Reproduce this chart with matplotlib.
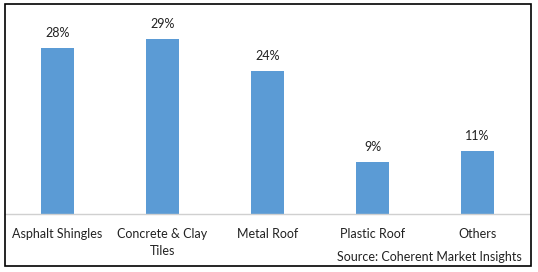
import matplotlib.pyplot as plt
from matplotlib.patches import Rectangle

categories = ["Asphalt Shingles", "Concrete & Clay\nTiles", "Metal Roof", "Plastic Roof", "Others"]
shares = [27.8, 29.3, 24.0, 8.7, 10.6]
labels = ["28%", "29%", "24%", "9%", "11%"]

W, H = 538, 272
fig = plt.figure(figsize=(W / 100, H / 100), dpi=100)
plt.rcParams['font.family'] = ['Lato', 'DejaVu Sans']

# outer frame
fig.patches.append(Rectangle((5 / W, 1 - 266 / H), 526 / W, 262 / H, transform=fig.transFigure,
                             fill=False, edgecolor='black', linewidth=1.2))

ax = fig.add_axes([5 / W, 1 - 214 / H, 525 / W, 194 / H])
x = range(len(categories))
ax.bar(x, shares, width=0.314, color='#5B9BD5')
for i, (v, lab) in enumerate(zip(shares, labels)):
    ax.text(i, v + 1.5, lab, ha='center', va='bottom', fontsize=9, color='#222222')

ax.set_xlim(-0.5, 4.5)
ax.set_ylim(0, 32.5)
ax.set_yticks([])
ax.set_xticks(list(x))
ax.set_xticklabels(categories, fontsize=9, color='#222222', linespacing=1.5)
ax.tick_params(axis='x', length=0, pad=10)
for s in ['top', 'right', 'left']:
    ax.spines[s].set_visible(False)
ax.spines['bottom'].set_color('#D0D0D0')
ax.spines['bottom'].set_linewidth(1)

fig.text(522 / W, 1 - 257 / H, "Source: Coherent Market Insights", ha='right', va='center',
         fontsize=9, color='#222222')

fig.savefig("out.png", dpi=100)
